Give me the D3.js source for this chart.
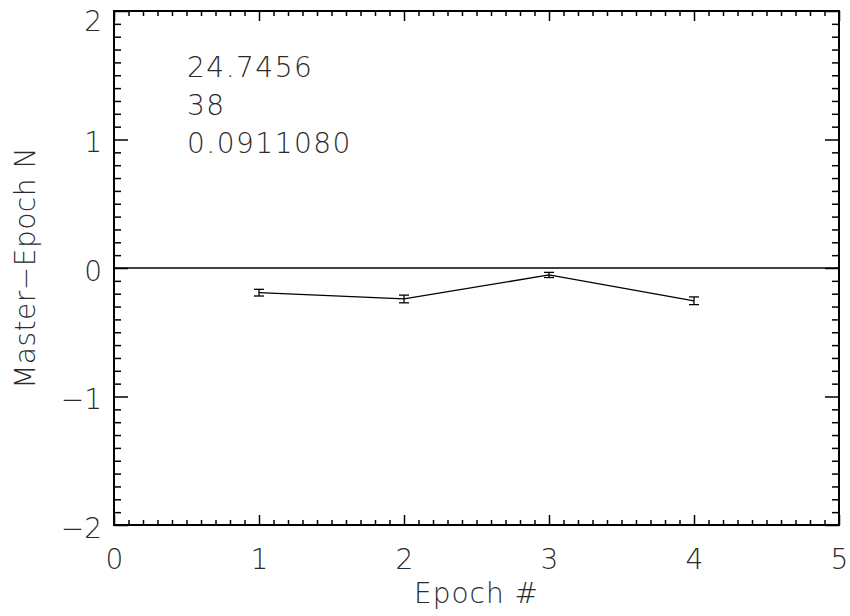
<!DOCTYPE html>
<html><head><meta charset="utf-8">
<script src="https://cdn.jsdelivr.net/npm/d3@7"></script>
<style>
html,body{margin:0;padding:0;background:#fff;}
svg{display:block;}
text{font-family:"DejaVu Sans","Liberation Sans",sans-serif;font-weight:200;fill:#2a2a2a;}
</style></head><body>
<script>
const epochs = [1, 2, 3, 4];
const diffs = [-0.192, -0.241, -0.054, -0.255];
const errs = [0.026, 0.030, 0.020, 0.030];
const xTicks = [0, 1, 2, 3, 4, 5];
const yTicks = [-2, -1, 0, 1, 2];
const annotations = ["24.7456", "38", "0.0911080"];
const xLabel = "Epoch #";
const yLabel = "Master\u2212Epoch N";

const W = 850, H = 616;
const L = 114, R = 839, T = 11, B = 525;
const svg = d3.select("body").append("svg").attr("width", W).attr("height", H);
const x = d3.scaleLinear().domain([0, 5]).range([L, R]);
const y = d3.scaleLinear().domain([-2, 2]).range([B, T]);

const xMinor = d3.range(0, 50).map(i => i / 10).filter(v => Math.abs(v - Math.round(v)) > 1e-9);
const yMinor = d3.range(-20, 21).map(i => i / 10).filter(v => Math.abs(v - Math.round(v)) > 1e-9);

function styleAxis(g) {
  g.select(".domain").remove();
  g.selectAll(".tick line").attr("stroke", "#000").attr("stroke-width", 1.5);
}

// bottom
svg.append("g").attr("transform", `translate(0,${B})`)
  .call(d3.axisBottom(x).tickValues(xTicks).tickSizeInner(-10).tickSizeOuter(0).tickPadding(24).tickFormat(d3.format("d")))
  .call(styleAxis)
  .call(g => g.selectAll("text").attr("font-size", 28).attr("dy", "0.71em").style("font-family", null).attr("fill", "#2a2a2a"));
svg.append("g").attr("transform", `translate(0,${B})`)
  .call(d3.axisBottom(x).tickValues(xMinor).tickSizeInner(-5).tickSizeOuter(0).tickFormat(""))
  .call(styleAxis);
// top
svg.append("g").attr("transform", `translate(0,${T})`)
  .call(d3.axisTop(x).tickValues(xTicks).tickSizeInner(-10).tickSizeOuter(0).tickFormat(""))
  .call(styleAxis);
svg.append("g").attr("transform", `translate(0,${T})`)
  .call(d3.axisTop(x).tickValues(xMinor).tickSizeInner(-5).tickSizeOuter(0).tickFormat(""))
  .call(styleAxis);
// left
svg.append("g").attr("transform", `translate(${L},0)`)
  .call(d3.axisLeft(y).tickValues(yTicks).tickSizeInner(-14).tickSizeOuter(0).tickPadding(-2)
    .tickFormat(d => d < 0 ? "\u2212" + Math.abs(d) : String(d)))
  .call(styleAxis)
  .call(g => g.selectAll("text").attr("font-size", 28).attr("x", -12)
    .attr("y", d => d === 2 ? 9 : 2)
    .attr("dy", "0.36em").style("font-family", null).attr("fill", "#2a2a2a"));
svg.append("g").attr("transform", `translate(${L},0)`)
  .call(d3.axisLeft(y).tickValues(yMinor).tickSizeInner(-7).tickSizeOuter(0).tickFormat(""))
  .call(styleAxis);
// right
svg.append("g").attr("transform", `translate(${R},0)`)
  .call(d3.axisRight(y).tickValues(yTicks).tickSizeInner(-14).tickSizeOuter(0).tickFormat(""))
  .call(styleAxis);
svg.append("g").attr("transform", `translate(${R},0)`)
  .call(d3.axisRight(y).tickValues(yMinor).tickSizeInner(-7).tickSizeOuter(0).tickFormat(""))
  .call(styleAxis);

// frame
svg.append("rect").attr("x", L).attr("y", T).attr("width", R - L).attr("height", B - T)
  .attr("fill", "none").attr("stroke", "#000").attr("stroke-width", 2);

// zero line
svg.append("line").attr("x1", x(0)).attr("x2", x(5)).attr("y1", y(0)).attr("y2", y(0))
  .attr("stroke", "#000").attr("stroke-width", 1.3);

// data line
const pts = epochs.map((e, i) => ({e, v: diffs[i], s: errs[i]}));
svg.append("path").datum(pts)
  .attr("d", d3.line().x(d => x(d.e)).y(d => y(d.v)))
  .attr("fill", "none").attr("stroke", "#000").attr("stroke-width", 1.3);

// error bars
const eb = svg.append("g").attr("stroke", "#000").attr("stroke-width", 1.3);
pts.forEach(d => {
  eb.append("line").attr("x1", x(d.e)).attr("x2", x(d.e)).attr("y1", y(d.v - d.s)).attr("y2", y(d.v + d.s));
  eb.append("line").attr("x1", x(d.e) - 5).attr("x2", x(d.e) + 5).attr("y1", y(d.v - d.s)).attr("y2", y(d.v - d.s));
  eb.append("line").attr("x1", x(d.e) - 5).attr("x2", x(d.e) + 5).attr("y1", y(d.v + d.s)).attr("y2", y(d.v + d.s));
});

// annotations
annotations.forEach((t, i) => {
  svg.append("text").attr("x", 187).attr("y", 77 + i * 38).attr("font-size", 28)
    .attr("letter-spacing", 1.5).text(t);
});

// axis labels
svg.append("text").attr("x", (L + R) / 2).attr("y", 603).attr("text-anchor", "middle")
  .attr("font-size", 28).attr("letter-spacing", 1).text(xLabel);
svg.append("text").attr("transform", `translate(35,${(T + B) / 2}) rotate(-90)`)
  .attr("text-anchor", "middle").attr("font-size", 28).attr("letter-spacing", 0.5).text(yLabel);
</script>
</body></html>
